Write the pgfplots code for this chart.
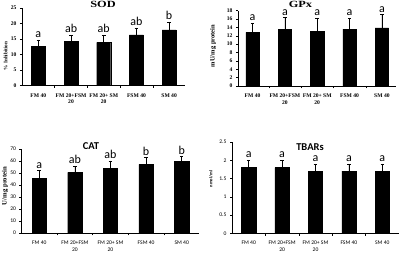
\documentclass[border=0pt]{standalone}
\usepackage{fontspec}
\setmainfont{Liberation Serif}
\newfontfamily\calib{Carlito}
\usepackage{pgfplots}
\pgfplotsset{compat=1.18}
\usepackage{pgfplotstable}

\pgfplotstableread{
x y e
0 12.5 2.15
1 14.1 2.2
2 13.9 2.4
3 16.3 2.3
4 17.9 2.5
}\sod
\pgfplotstableread{
x y e
0 12.8 2.2
1 13.5 2.9
2 13.0 3.2
3 13.6 2.6
4 13.9 3.2
}\gpx
\pgfplotstableread{
x y e
0 45.3 6.7
1 50.6 5.2
2 53.9 6.1
3 57.2 5.6
4 59.7 4.2
}\cat
\pgfplotstableread{
x y e
0 1.8 0.2
1 1.8 0.2
2 1.7 0.2
3 1.7 0.2
4 1.7 0.2
}\tbars

\pgfplotsset{
  panel/.style={
    scale only axis, anchor=south west, clip=false,
    axis x line*=bottom, axis y line*=left,
    axis line style={black, line width=0.4pt},
    tick align=outside, tick pos=left,
    major tick length=2pt, minor tick length=2.5pt,
    xtick={0,1,2,3,4},
    minor xtick={0.5,1.5,2.5,3.5},
    every major x tick/.style={draw=none},
    every minor x tick/.style={black, line width=0.4pt},
    every major y tick/.style={black, line width=0.4pt},
    xticklabels={FM 40,{FM 20+FSM\\20},{FM 20+ SM\\20},FSM 40,SM 40},
    xticklabel style={align=center, yshift=-2.5pt},
    /pgf/number format/assume math mode=true,
    ybar, 
  },
  serifticks/.style={
    ticklabel style={font=\fontsize{5.6}{6.8}\selectfont\bfseries},
  },
  sansticks/.style={
    ticklabel style={font=\calib\fontsize{5.6}{6.7}\selectfont},
  },
  errs/.style={fill=black, draw=black,
    error bars/.cd, y dir=plus, y explicit,
    error bar style={black, line width=0.5pt},
    error mark options={rotate=90, mark size=1.8pt, black, line width=0.5pt}},
}
\newcommand{\lab}[3]{\node[font=\calib\fontsize{12}{12}\selectfont, anchor=south, inner sep=0.5pt, yshift=1.5pt] at (axis cs:#1,#2) {#3};}

\begin{document}
\begin{tikzpicture}[x=1pt,y=1pt]
\path[use as bounding box] (0,0) rectangle (400,253);

% SOD
\begin{axis}[panel, serifticks, at={(22pt,167.7pt)}, width=163.5pt, height=77.3pt,
  xmin=-0.5, xmax=4.5, ymin=0, ymax=25, ytick={0,5,...,25}, bar width=14pt]
\addplot[errs] table[x=x, y=y, y error=e] {\sod};
\lab{0}{14.65}{a}\lab{1}{16.3}{ab}\lab{2}{16.3}{ab}\lab{3}{18.6}{ab}\lab{4}{20.4}{b}
\end{axis}
\node[font=\fontsize{9.5}{10}\selectfont\bfseries] at (103,248.5) {\scalebox{1.3}[1]{SOD}};
\node[rotate=90, font=\fontsize{5.2}{6}\selectfont\bfseries] at (5.5,197) {\% Inhibition};

% GPx
\begin{axis}[panel, serifticks, at={(238pt,167pt)}, width=158.5pt, height=75.3pt,
  xmin=-0.45, xmax=4.45, ymin=0, ymax=18, ytick={0,2,...,18}, bar width=13.5pt]
\addplot[errs] table[x=x, y=y, y error=e] {\gpx};
\lab{0}{15.0}{a}\lab{1}{16.4}{a}\lab{2}{16.2}{a}\lab{3}{16.2}{a}\lab{4}{17.1}{a}
\end{axis}
\node[font=\fontsize{9.5}{10}\selectfont\bfseries] at (300.5,248.5) {\scalebox{1.3}[1]{GPx}};
\node[rotate=90, font=\fontsize{6.5}{7}\selectfont\bfseries] at (213,207) {mU/mg protein};

% CAT
\begin{axis}[panel, sansticks, at={(21.5pt,20pt)}, width=178pt, height=84pt,
  xmin=-0.5, xmax=4.5, ymin=0, ymax=70, ytick={0,10,...,70}, bar width=14.3pt]
\addplot[errs] table[x=x, y=y, y error=e] {\cat};
\lab{0}{52}{a}\lab{1}{55.8}{ab}\lab{2}{60}{ab}\lab{3}{62.8}{b}\lab{4}{63.9}{b}
\end{axis}
\node[font=\calib\fontsize{10.5}{11}\selectfont\bfseries] at (91,107) {CAT};
\node[rotate=90, font=\fontsize{6.7}{7}\selectfont\bfseries] at (5,67) {U/mg protein};

% TBARs
\begin{axis}[panel, sansticks, at={(232pt,19.7pt)}, width=167pt, height=91.3pt,
  xmin=-0.5, xmax=4.5, ymin=0, ymax=2.5, ytick={0,0.5,...,2.5}, bar width=14.3pt,
  yticklabel style={/pgf/number format/fixed}]
\addplot[errs] table[x=x, y=y, y error=e] {\tbars};
\lab{0}{2.0}{a}\lab{1}{2.0}{a}\lab{2}{1.9}{a}\lab{3}{1.9}{a}\lab{4}{1.9}{a}
\end{axis}
\node[font=\calib\fontsize{10.5}{11}\selectfont\bfseries] at (310,106) {TBARs};
\node[rotate=90, font=\calib\fontsize{4.5}{5}\selectfont\bfseries] at (211,74) {nmol/ml};
\end{tikzpicture}
\end{document}
